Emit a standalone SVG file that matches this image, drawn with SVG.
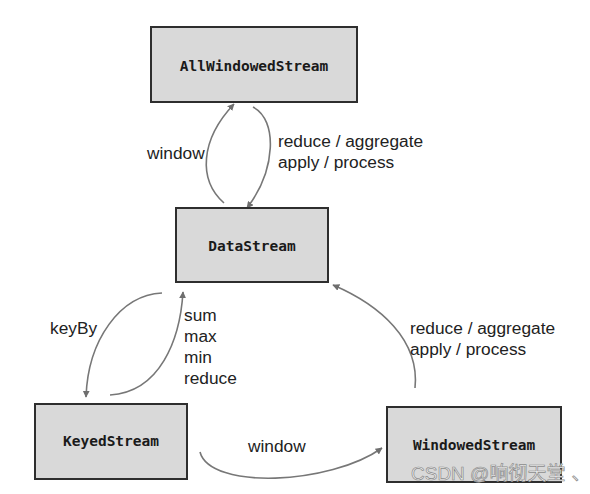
<svg xmlns="http://www.w3.org/2000/svg" width="590" height="494" viewBox="0 0 590 494">
<defs>
<marker id="ah" viewBox="0 0 10 10" refX="9" refY="5" markerWidth="7" markerHeight="7" orient="auto" markerUnits="userSpaceOnUse">
<path d="M0,0 L10,5 L0,10 z" fill="#6e6e6e"/>
</marker>
<style>
.box{fill:#d9d9d9;stroke:#2e2e2e;stroke-width:2}
.nt{font-family:"DejaVu Sans Mono",monospace;font-weight:bold;font-size:14.5px;fill:#1a1a1a;text-anchor:middle}
.lb{font-family:"Liberation Sans",Arial,sans-serif;font-size:17.3px;fill:#222}
.cn{fill:none;stroke:#777;stroke-width:1.6;marker-end:url(#ah)}
</style>
</defs>
<rect width="590" height="494" fill="#fff"/>
<g id="connectors">
<path class="cn" d="M224,203 C198,180 200,140 234,104"/>
<path class="cn" d="M253,107 C278,120 276,170 247,208"/>
<path class="cn" d="M162,293 C120,295 88,340 86,397"/>
<path class="cn" d="M110,395 C160,392 180,340 183,292"/>
<path class="cn" d="M415,388 C420,340 380,305 333,285"/>
<path class="cn" d="M200,452 C210,490 330,485 382,448"/>
</g>
<g id="AllWindowedStream">
<rect class="box" x="151" y="27" width="206" height="75"/>
<text class="nt" x="254" y="71">AllWindowedStream</text>
</g>
<g id="DataStream">
<rect class="box" x="176" y="208" width="152" height="74"/>
<text class="nt" x="252" y="251">DataStream</text>
</g>
<g id="KeyedStream">
<rect class="box" x="35" y="404" width="152" height="75"/>
<text class="nt" x="111" y="446">KeyedStream</text>
</g>
<g id="WindowedStream">
<rect class="box" x="387" y="407" width="174" height="75"/>
<text class="nt" x="474" y="450">WindowedStream</text>
</g>
<g id="labels">
<text class="lb" x="147" y="159">window</text>
<text class="lb" x="278" y="147">reduce / aggregate</text>
<text class="lb" x="278" y="168">apply / process</text>
<text class="lb" x="50" y="334">keyBy</text>
<text class="lb" x="184" y="321">sum</text>
<text class="lb" x="184" y="342">max</text>
<text class="lb" x="184" y="363">min</text>
<text class="lb" x="184" y="384">reduce</text>
<text class="lb" x="410" y="334">reduce / aggregate</text>
<text class="lb" x="410" y="355">apply / process</text>
<text class="lb" x="248" y="452">window</text>
</g>
<text x="411" y="480" font-family="Liberation Sans,'Noto Sans CJK SC',sans-serif" font-size="19" fill="#f2f2f2" stroke="#8a8a8a" stroke-width="0.7">CSDN @响彻天堂<tspan dx="6">、</tspan></text>
</svg>
